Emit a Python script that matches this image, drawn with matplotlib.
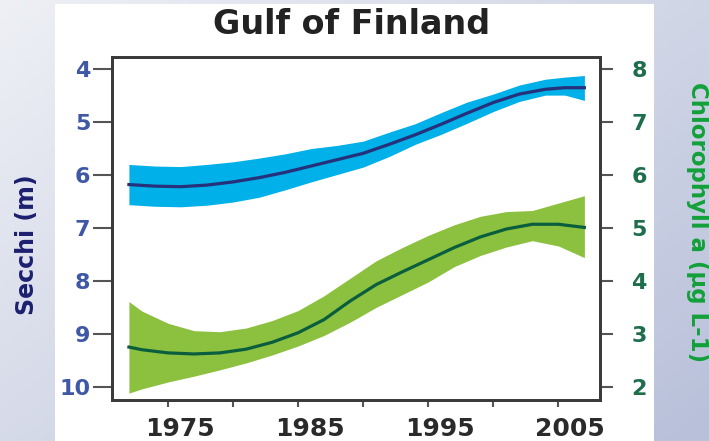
import matplotlib
matplotlib.use("Agg")
from matplotlib import pyplot
from matplotlib.patches import Rectangle
from matplotlib.transforms import ScaledTranslation
import numpy as np

# values
secchi_years = [1972, 1974, 1976, 1978, 1980, 1982, 1984, 1986, 1988, 1990,
                1992, 1994, 1996, 1998, 2000, 2002, 2004, 2005.5, 2007]
secchi = [6.18, 6.21, 6.22, 6.19, 6.13, 6.05, 5.95, 5.83, 5.71, 5.59,
          5.42, 5.24, 5.04, 4.83, 4.63, 4.47, 4.38, 4.35, 4.35]
secchi_lo = [5.80, 5.83, 5.84, 5.80, 5.75, 5.68, 5.60, 5.50, 5.44, 5.36,
             5.19, 5.03, 4.82, 4.62, 4.47, 4.30, 4.19, 4.15, 4.12]
secchi_hi = [6.56, 6.59, 6.60, 6.57, 6.51, 6.42, 6.28, 6.13, 5.99, 5.85,
             5.65, 5.42, 5.23, 5.02, 4.80, 4.61, 4.49, 4.49, 4.59]

chl_years = [1972, 1973, 1975, 1977, 1979, 1981, 1983, 1985, 1987, 1989,
             1991, 1993, 1995, 1997, 1999, 2001, 2003, 2005, 2007]
chl = [2.75, 2.70, 2.64, 2.62, 2.64, 2.71, 2.84, 3.02, 3.27, 3.62,
       3.93, 4.17, 4.40, 4.63, 4.83, 4.98, 5.07, 5.07, 5.01]
chl_hi = [3.61, 3.43, 3.20, 3.06, 3.04, 3.11, 3.25, 3.44, 3.72, 4.05,
          4.38, 4.63, 4.86, 5.06, 5.22, 5.31, 5.33, 5.47, 5.61]
chl_lo = [1.88, 1.96, 2.09, 2.20, 2.32, 2.45, 2.60, 2.77, 2.97, 3.22,
          3.50, 3.74, 3.98, 4.27, 4.48, 4.64, 4.76, 4.66, 4.44]

secchi_ticks = [4, 5, 6, 7, 8, 9, 10]
chl_ticks = [2, 3, 4, 5, 6, 7, 8]
year_major = [1975, 1985, 1995, 2005]
year_minor = [1980, 1990, 2000]

pyplot.rcParams["font.family"] = ["DejaVu Sans"]
pyplot.rcParams["font.weight"] = "bold"

W, H = 709, 441
fig = pyplot.figure(figsize=(W / 100, H / 100), dpi=100)

# soft gradient backdrop + white panel
bg = fig.add_axes([0, 0, 1, 1], zorder=-10)
gx, gy = np.meshgrid(np.linspace(0, 1, 200), np.linspace(0, 1, 120))
t = np.clip(0.55 * gx + 0.45 * gy, 0, 1)[..., None]
c0 = np.array([238, 240, 245]) / 255
c1 = np.array([184, 192, 218]) / 255
bg.imshow(c0 * (1 - t) + c1 * t, aspect="auto", extent=[0, 1, 0, 1], origin="upper")
bg.axis("off")
fig.patches.append(Rectangle((55 / W, 0), 599 / W, 437 / H, transform=fig.transFigure,
                             facecolor="white", edgecolor="none", zorder=-5))

ax = fig.add_axes([112 / W, 1 - 400 / H, 488 / W, 343 / H])
ax.patch.set_alpha(0)
ax2 = ax.twinx()

ax.fill_between(secchi_years, secchi_lo, secchi_hi, color="#00b0e8", lw=0)
ax.plot(secchi_years, secchi, color="#27307a", lw=2.3)
ax2.fill_between(chl_years, chl_lo, chl_hi, color="#8cc13f", lw=0)
ax2.plot(chl_years, chl, color="#0a5e3e", lw=2.3)

ax.set_xlim(1970.7, 2008.2)
ax.set_ylim(10.25, 3.77)
ax2.set_ylim(1.75, 8.23)

ax.set_yticks(secchi_ticks)
ax2.set_yticks(chl_ticks)
ax.set_xticks(year_major)
ax.set_xticks(year_minor, minor=True)

for a in (ax, ax2):
    for s in a.spines.values():
        s.set_color("#3a3a3a")
        s.set_linewidth(2)

ax.tick_params(axis="y", direction="out", length=14, width=1.5, color="#555555",
               pad=1.5, labelsize=16, labelcolor="#3f58a6")
ax2.tick_params(axis="y", direction="out", length=9.5, width=1.5, color="#555555",
                pad=13, labelsize=16, labelcolor="#1e6e4c")
ax.tick_params(axis="x", which="both", direction="out", length=5, width=1.5,
               color="#555555", pad=7, labelsize=18, labelcolor="#2a2a2a")
shift = ScaledTranslation(12 / 100, 0, fig.dpi_scale_trans)
for lab in ax.get_xticklabels():
    lab.set_transform(lab.get_transform() + shift)

fig.text(352 / W, 1 - 25 / H, "Gulf of Finland", ha="center", va="center",
         fontsize=24, fontweight="bold", color="#222222")
fig.text(27 / W, 1 - 245 / H, "Secchi (m)", ha="center", va="center", rotation=90,
         fontsize=17, fontweight="bold", color="#1b1f6f")
fig.text(697 / W, 1 - 222 / H, "Chlorophyll a (µg L-1)", ha="center", va="center",
         rotation=-90, fontsize=16.5, fontweight="bold", color="#12a03a")

fig.savefig("out.png", dpi=100)
